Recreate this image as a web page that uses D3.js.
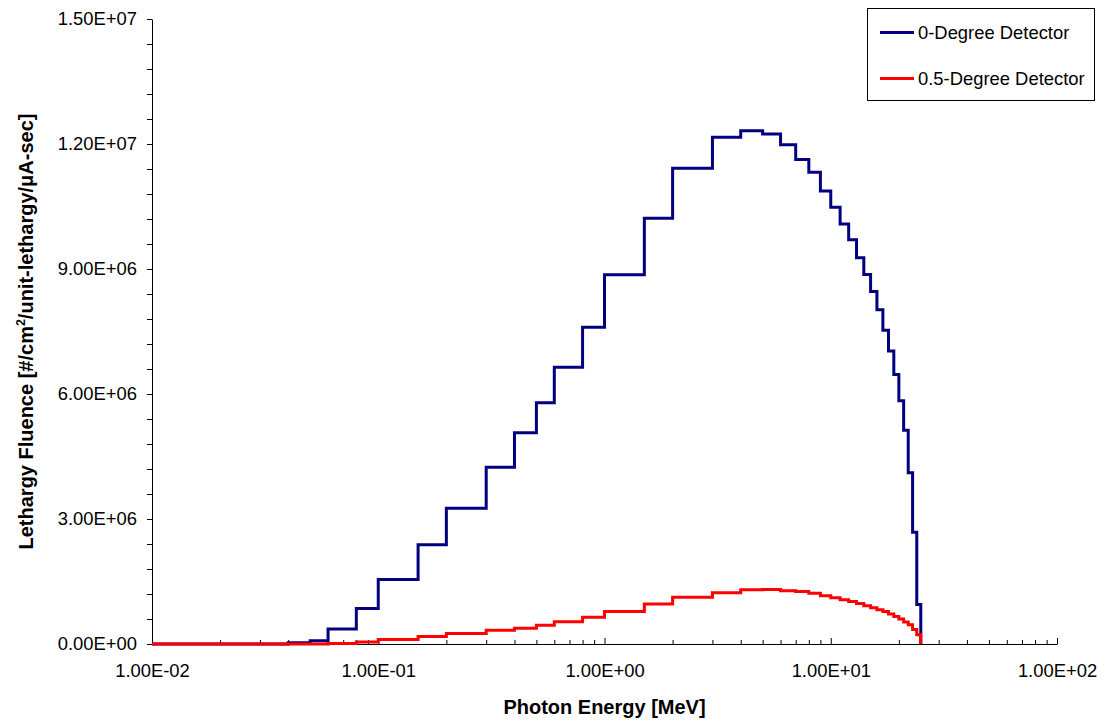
<!DOCTYPE html>
<html>
<head>
<meta charset="utf-8">
<script src="https://cdn.jsdelivr.net/npm/d3@7"></script>
<style>
  html, body { margin: 0; padding: 0; background: #fff; }
  svg { display: block; font-family: "Liberation Sans", Arial, sans-serif; }
</style>
</head>
<body>
<svg id="chart" width="1107" height="723"></svg>
<script>
// Energy bin edges [MeV]
const binEdges = [0.01, 0.02, 0.03, 0.04, 0.05, 0.06, 0.08, 0.1, 0.15, 0.2, 0.3, 0.4, 0.5, 0.6, 0.8,
  1, 1.5, 2, 3, 4, 5, 6, 7, 8, 9, 10, 11, 12, 13, 14, 15, 16, 17, 18, 19, 20, 21, 22, 23, 24, 25];

// Lethargy fluence per bin, 0-degree detector
const fluence0deg = [0, 0, 0, 0.03e6, 0.08e6, 0.36e6, 0.85e6, 1.55e6, 2.38e6, 3.26e6, 4.24e6, 5.07e6,
  5.79e6, 6.64e6, 7.60e6, 8.86e6, 10.22e6, 11.42e6, 12.16e6, 12.32e6, 12.24e6, 11.98e6, 11.63e6,
  11.32e6, 10.87e6, 10.48e6, 10.08e6, 9.70e6, 9.27e6, 8.87e6, 8.46e6, 8.02e6, 7.53e6, 7.03e6,
  6.47e6, 5.84e6, 5.13e6, 4.11e6, 2.68e6, 0.95e6];

// Lethargy fluence per bin, 0.5-degree detector
const fluence05deg = [0, 0, 0, 0, 0, 0.01e6, 0.05e6, 0.11e6, 0.18e6, 0.25e6, 0.33e6, 0.38e6,
  0.45e6, 0.535e6, 0.64e6, 0.78e6, 0.96e6, 1.12e6, 1.23e6, 1.30e6, 1.31e6, 1.28e6, 1.26e6,
  1.22e6, 1.16e6, 1.11e6, 1.06e6, 1.02e6, 0.97e6, 0.92e6, 0.87e6, 0.82e6, 0.78e6, 0.72e6,
  0.66e6, 0.60e6, 0.53e6, 0.46e6, 0.35e6, 0.22e6];

const seriesNames = ["0-Degree Detector", "0.5-Degree Detector"];
const seriesColors = ["#000080", "#ff0000"];

const xTickValues = [1e-2, 1e-1, 1, 10, 100];
const xTickLabels = ["1.00E-02", "1.00E-01", "1.00E+00", "1.00E+01", "1.00E+02"];
const yTickValues = [0, 3e6, 6e6, 9e6, 12e6, 15e6];
const yTickLabels = ["0.00E+00", "3.00E+06", "6.00E+06", "9.00E+06", "1.20E+07", "1.50E+07"];

const svg = d3.select("#chart");
const margin = { left: 152, right: 50, top: 19, bottom: 79 };
const W = 1107, H = 723;
const labelSize = 18.4;

const x = d3.scaleLog().domain([0.01, 100]).range([margin.left, W - margin.right]);
const y = d3.scaleLinear().domain([0, 1.5e7]).range([H - margin.bottom, margin.top]);

// minor ticks on the log axis
const xMinor = [];
for (let dec = -2; dec < 2; dec++) {
  for (let k = 2; k <= 9; k++) xMinor.push(k * Math.pow(10, dec));
}
const yMinor = d3.range(0, 1.5e7 + 1, 6e5).filter(v => !yTickValues.includes(v));

// Y axis: minor ticks
svg.append("g")
  .attr("transform", `translate(${margin.left},0)`)
  .call(d3.axisLeft(y).tickValues(yMinor).tickSize(5).tickFormat(""))
  .call(g => g.select(".domain").remove())
  .call(g => g.selectAll("line").attr("stroke", "#000"));

// Y axis: major ticks and labels
svg.append("g")
  .attr("transform", `translate(${margin.left},0)`)
  .call(d3.axisLeft(y).tickValues(yTickValues).tickSize(5).tickSizeOuter(0).tickPadding(10)
    .tickFormat((d, i) => yTickLabels[i]))
  .call(g => g.select(".domain").attr("stroke", "#000"))
  .call(g => g.selectAll("text").attr("font-size", labelSize).attr("fill", "#000")
    .attr("font-family", "'Liberation Sans', Arial, sans-serif"));

// X axis: minor ticks pointing into the plot
svg.append("g")
  .attr("transform", `translate(0,${H - margin.bottom})`)
  .call(d3.axisBottom(x).tickValues(xMinor).tickSize(-4).tickFormat(""))
  .call(g => g.select(".domain").remove())
  .call(g => g.selectAll("line").attr("stroke", "#000"));

// X axis: major ticks and labels
svg.append("g")
  .attr("transform", `translate(0,${H - margin.bottom})`)
  .call(d3.axisBottom(x).tickValues(xTickValues).tickSizeInner(-6).tickSizeOuter(0).tickPadding(20)
    .tickFormat((d, i) => xTickLabels[i]))
  .call(g => g.select(".domain").attr("stroke", "#000"))
  .call(g => g.selectAll("line").attr("stroke", "#000"))
  .call(g => g.selectAll("text").attr("font-size", labelSize).attr("fill", "#000")
    .attr("font-family", "'Liberation Sans', Arial, sans-serif"));

// Step curves
const line = d3.line()
  .x(d => x(d[0]))
  .y(d => y(d[1]))
  .curve(d3.curveStepAfter);

function stepPoints(values) {
  const pts = values.map((v, i) => [binEdges[i], v]);
  pts.push([binEdges[binEdges.length - 1], 0]);
  return pts;
}

[fluence0deg, fluence05deg].forEach((vals, i) => {
  svg.append("path")
    .datum(stepPoints(vals))
    .attr("fill", "none")
    .attr("stroke", seriesColors[i])
    .attr("stroke-width", 3)
    .attr("stroke-linejoin", "miter")
    .attr("d", line);
});

// Axis titles
svg.append("text")
  .attr("x", x(1))
  .attr("y", 714)
  .attr("text-anchor", "middle")
  .attr("font-weight", "bold")
  .attr("font-size", 20)
  .text("Photon Energy [MeV]");

const yTitle = svg.append("text")
  .attr("transform", `translate(33,${(y(0) + y(1.5e7)) / 2}) rotate(-90)`)
  .attr("text-anchor", "middle")
  .attr("font-weight", "bold")
  .attr("font-size", 20);
yTitle.append("tspan").text("Lethargy Fluence [#/cm");
yTitle.append("tspan").attr("font-size", 12.5).attr("dy", -8).text("2");
yTitle.append("tspan").attr("dy", 8).text("/unit-lethargy/μA-sec]");

// Legend
const legend = svg.append("g");
legend.append("rect")
  .attr("x", 867.5).attr("y", 8.5).attr("width", 227).attr("height", 92)
  .attr("fill", "#fff").attr("stroke", "#000").attr("stroke-width", 1);
seriesNames.forEach((name, i) => {
  const ly = 32.5 + i * 46;
  legend.append("line")
    .attr("x1", 880).attr("x2", 914).attr("y1", ly).attr("y2", ly)
    .attr("stroke", seriesColors[i]).attr("stroke-width", 3);
  legend.append("text")
    .attr("x", 918).attr("y", ly + 6.5)
    .attr("font-size", labelSize)
    .text(name);
});
</script>
</body>
</html>
